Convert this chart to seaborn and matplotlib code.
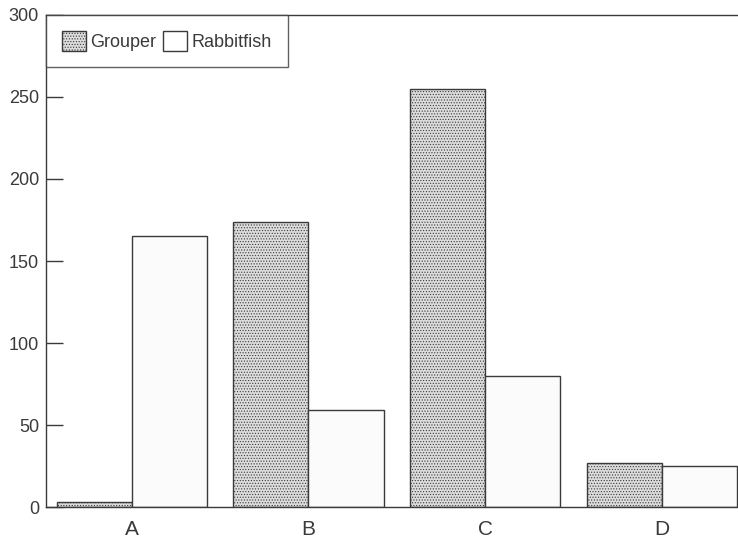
import pandas as pd
import seaborn as sns
import matplotlib
matplotlib.use("Agg")
from matplotlib import pyplot as plt
from matplotlib.patches import Patch

# 数据
sites = ['A', 'B', 'C', 'D']
grouper = [3, 174, 255, 27]
rabbitfish = [165, 59, 80, 25]
species = ['Grouper', 'Rabbitfish']

df = pd.DataFrame({
    'site': sites * 2,
    'count': grouper + rabbitfish,
    'species': [species[0]] * 4 + [species[1]] * 4,
})

sns.set_style('white')
plt.rcParams['font.family'] = ['Liberation Sans', 'DejaVu Sans']
plt.rcParams['hatch.color'] = '#b0b0b0'
plt.rcParams['hatch.linewidth'] = 0.5
ink = '#3a3a3a'
grey = '#dcdcdc'

fig = plt.figure(figsize=(7.38, 5.41), dpi=100)
ax = fig.add_axes([0.0623, 0.0628, 0.9377, 0.9095])

sns.barplot(data=df, x='site', y='count', hue='species', ax=ax,
            palette={'Grouper': grey, 'Rabbitfish': '#fbfbfb'},
            width=0.85, edgecolor=ink, linewidth=1.0, saturation=1,
            legend=False)

# 点状纹理
for bar in ax.patches[:4]:
    bar.set_hatch('......')
for bar in ax.patches:
    bar.set_edgecolor(ink)

ax.set_xlim(-0.487, 3.433)
ax.set_ylim(0, 300)
ax.set_yticks([0, 50, 100, 150, 200, 250, 300])
ax.set_xlabel('')
ax.set_ylabel('')
ax.tick_params(axis='y', left=True, direction='in', length=12, width=1,
               color=ink, labelsize=13, labelcolor=ink, pad=5)
ax.tick_params(axis='x', bottom=False, length=0, labelsize=15,
               labelcolor=ink, pad=9)
for side in ['left', 'bottom', 'top']:
    ax.spines[side].set_color(ink)
    ax.spines[side].set_linewidth(1.0)
ax.spines['right'].set_visible(False)

handles = [Patch(facecolor=grey, edgecolor=ink, hatch='......'),
           Patch(facecolor='white', edgecolor=ink)]
leg = ax.legend(handles, species, loc='upper left', bbox_to_anchor=(0, 1),
                ncol=2, frameon=True, fancybox=False, borderaxespad=0,
                handlelength=1.3, handleheight=1.3, handletextpad=0.25,
                columnspacing=0.4, borderpad=0.9, fontsize=13)
leg.get_frame().set_edgecolor(ink)
leg.get_frame().set_linewidth(1.0)
for t in leg.get_texts():
    t.set_color(ink)

fig.savefig('out.png', dpi=100)
